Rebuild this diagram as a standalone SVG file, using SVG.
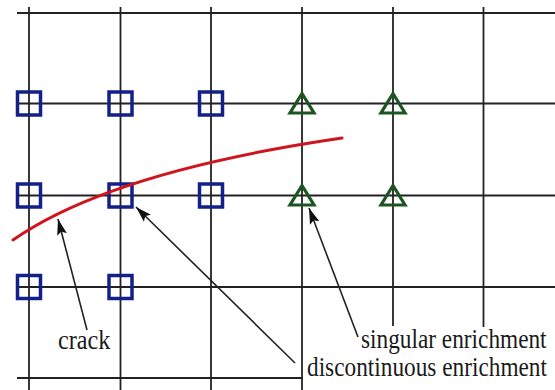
<svg xmlns="http://www.w3.org/2000/svg" width="555" height="390" viewBox="0 0 555 390">
  <style>
    .grid { stroke: #222; stroke-width: 1.8; fill: none; }
    .sq { fill: none; stroke: #14208a; stroke-width: 3.5; }
    .tri { fill: none; stroke: #1c5520; stroke-width: 3.2; stroke-linejoin: miter; }
    .crack { fill: none; stroke: #d0141c; stroke-width: 3; stroke-linecap: round; }
    .conn { stroke: #222; stroke-width: 1.6; fill: none; }
    text { font-family: "Liberation Serif", "DejaVu Serif", "Times New Roman", serif; font-size: 23.3px; fill: #1a1a1a; }
  </style>
  <defs>
    <rect id="sqm" x="-11.5" y="-11.5" width="23" height="23" class="sq"/>
    <path id="trim" d="M0,-10 L12,9.5 L-12,9.5 Z" class="tri"/>
    <marker id="arr" markerUnits="userSpaceOnUse" markerWidth="18" markerHeight="12" refX="16" refY="5" orient="auto" viewBox="0 0 18 10">
      <path d="M0,0 L16,5 L0,10 L3,5 Z" fill="#111"/>
    </marker>
  </defs>
  <rect width="555" height="390" fill="#fff"/>

  <g id="grid" class="grid">
    <line x1="17" y1="13" x2="555" y2="13"/>
    <line x1="17" y1="103.5" x2="555" y2="103.5"/>
    <line x1="17" y1="195.5" x2="555" y2="195.5"/>
    <line x1="17" y1="287" x2="555" y2="287"/>
    <line x1="17" y1="378" x2="303" y2="378"/>
    <line x1="29" y1="7" x2="29" y2="390"/>
    <line x1="120.5" y1="7" x2="120.5" y2="390"/>
    <line x1="211" y1="7" x2="211" y2="390"/>
    <line x1="302" y1="7" x2="302" y2="390"/>
    <line x1="393" y1="7" x2="393" y2="326"/>
    <line x1="483.5" y1="7" x2="483.5" y2="327"/>
  </g>

  <g id="n-sq-1"><use href="#sqm" x="29" y="103.5"/></g>
  <g id="n-sq-2"><use href="#sqm" x="120.5" y="103.5"/></g>
  <g id="n-sq-3"><use href="#sqm" x="211" y="103.5"/></g>
  <g id="n-sq-4"><use href="#sqm" x="29" y="195.5"/></g>
  <g id="n-sq-5"><use href="#sqm" x="120.5" y="195.5"/></g>
  <g id="n-sq-6"><use href="#sqm" x="211" y="195.5"/></g>
  <g id="n-sq-7"><use href="#sqm" x="29" y="287"/></g>
  <g id="n-sq-8"><use href="#sqm" x="120.5" y="287"/></g>

  <g id="n-tri-1"><use href="#trim" x="302" y="103.5"/></g>
  <g id="n-tri-2"><use href="#trim" x="393" y="103.5"/></g>
  <g id="n-tri-3"><use href="#trim" x="302" y="195.5"/></g>
  <g id="n-tri-4"><use href="#trim" x="393" y="195.5"/></g>

  <g id="n-crack">
    <path class="crack" d="M13,240 Q110,172 342,138"/>
  </g>

  <g id="connectors">
    <line class="conn" x1="87" y1="330" x2="58" y2="219" marker-end="url(#arr)"/>
    <line class="conn" x1="295" y1="363" x2="136" y2="207" marker-end="url(#arr)"/>
    <line class="conn" x1="358" y1="337" x2="309" y2="208" marker-end="url(#arr)"/>
  </g>

  <g id="n-label-crack" transform="translate(58,349) scale(1.04,1.15)">
    <text x="0" y="0">crack</text>
  </g>
  <g id="n-label-singular" transform="translate(361,348) scale(1,1.15)">
    <text x="0" y="0">singular enrichment</text>
  </g>
  <g id="n-label-discontinuous" transform="translate(307,376) scale(1,1.15)">
    <text x="0" y="0">discontinuous enrichment</text>
  </g>
</svg>
